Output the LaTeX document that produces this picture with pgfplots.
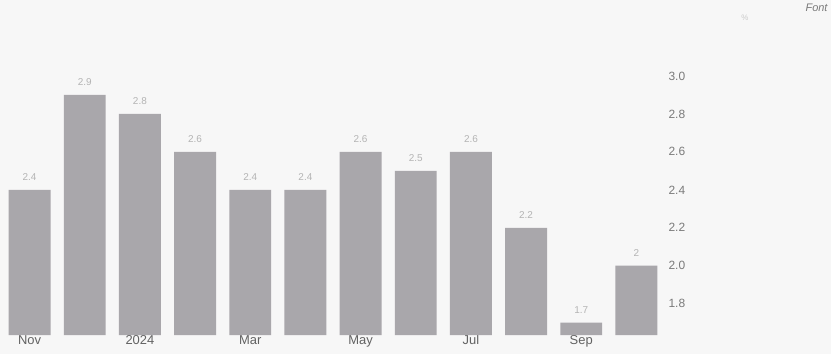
\documentclass[border=0pt]{standalone}
\usepackage{pgfplots}
\pgfplotsset{compat=1.18}
\usepackage{fontspec}
\setmainfont{Liberation Sans}
\definecolor{barc}{HTML}{A9A7AB}
\definecolor{vallab}{HTML}{B4B4B4}
\definecolor{ticklab}{HTML}{7A7A7A}
\definecolor{bg}{HTML}{F7F7F7}
\begin{document}
\begin{tikzpicture}[x=1bp,y=1bp]
\fill[bg] (0,0) rectangle (831,354);
\useasboundingbox (0,0) rectangle (831,354);
\begin{axis}[
  at={(2bp,19bp)}, anchor=south west,
  scale only axis, width=662bp, height=278bp,
  xmin=-0.5, xmax=11.5, ymin=1.635, ymax=3.1,
  axis line style={draw=none},
  ybar, bar width=0.76, bar shift=0pt,
  ytick={1.8,2.0,2.2,2.4,2.6,2.8,3.0},
  yticklabel pos=right,
  yticklabel style={/pgf/number format/fixed,/pgf/number format/fixed zerofill,/pgf/number format/precision=1, font=\fontsize{12}{14}\selectfont, text=ticklab, anchor=west, xshift=1bp},
  xtick={0,2,4,6,8,10},
  xticklabels={Nov,2024,Mar,May,Jul,Sep},
  xticklabel style={font=\fontsize{13}{15}\selectfont, text=ticklab!80!black, yshift=3bp},
  major tick length=0pt,
  tick style={draw=none},
  /pgf/number format/assume math mode=true,
  nodes near coords,
  nodes near coords style={font=\fontsize{10}{12}\selectfont, text=vallab, anchor=south, yshift=6bp},
  clip=false,
]
\addplot[fill=barc, draw=none] coordinates {
 (0,2.4) (1,2.9) (2,2.8) (3,2.6) (4,2.4) (5,2.4)
 (6,2.6) (7,2.5) (8,2.6) (9,2.2) (10,1.7) (11,2.0)
};
\end{axis}
\node[anchor=east, font=\itshape\fontsize{11}{13}\selectfont, text=ticklab] at (831,346) {Font};
\node[font=\fontsize{8}{9}\selectfont, text=vallab!70!white] at (745,336) {\%};
\end{tikzpicture}
\end{document}
